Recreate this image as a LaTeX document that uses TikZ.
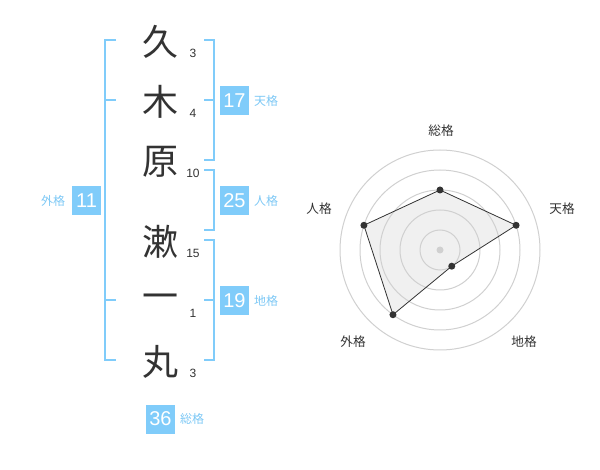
\documentclass[tikz,border=0pt]{standalone}
\usepackage{fontspec}
\setmainfont{Liberation Sans}
\newfontfamily\cjk{Noto Sans CJK JP}
\definecolor{skyblue}{RGB}{128,204,250}
\definecolor{labelblue}{RGB}{125,200,245}
\definecolor{inkgray}{RGB}{51,51,51}
\definecolor{ringgray}{RGB}{208,208,208}
\definecolor{fillgray}{RGB}{240,240,240}

\begin{document}
\begin{tikzpicture}[x=0.75pt,y=-0.75pt,
  kanji/.style={font=\cjk\fontsize{27}{27}\selectfont,text=inkgray,inner sep=0},
  strokenum/.style={font=\fontsize{9}{9}\selectfont,text=inkgray,inner sep=0},
  score/.style={fill=skyblue,text=white,minimum size=21.75pt,inner sep=0,font=\fontsize{15}{15}\selectfont},
  kaku/.style={font=\cjk\fontsize{9}{9}\selectfont,text=labelblue,inner sep=0},
  axislabel/.style={font=\cjk\fontsize{9.5}{9.5}\selectfont,text=inkgray,inner sep=0},
  bracket/.style={draw=skyblue,line width=1.5pt}]
\useasboundingbox (0,0) rectangle (600,470);
\newcommand{\tlen}{10}
\newcommand{\kanji}[4]{\node [kanji] (k#1) at (160,#2+1.5) {#3};
  \node [strokenum] (s#1) at (193,#2+13) {#4};}
\newcommand{\rtick}[1]{\draw [bracket] (214,#1)--(214-\tlen,#1);}

% name, one character per slot
\kanji{1}{40}{久}{3}
\kanji{2}{100}{木}{4}
\kanji{3}{160}{原}{10}
\kanji{4}{240}{漱}{15}
\kanji{5}{300}{一}{1}
\kanji{6}{360}{丸}{3}

% brackets
\draw [bracket] (116,40)--(105,40)--(105,360)--(116,360);
\draw [bracket] (105,100)--(116,100);
\draw [bracket] (105,300)--(116,300);
\draw [bracket] (204,40)--(214,40)--(214,160)--(204,160);\rtick{100}
\draw [bracket] (204,170)--(214,170)--(214,230)--(204,230);
\draw [bracket] (204,240)--(214,240)--(214,360)--(204,360);\rtick{300}

\node [score] (ten) at (234.5,100.5) {17};
\node [kaku] (tenl) at (266,100.5) {天格};
\node [score] (jin) at (234.5,200.5) {25};
\node [kaku] (jinl) at (266,200.5) {人格};
\node [score] (chi) at (234.5,300.5) {19};
\node [kaku] (chil) at (266,300.5) {地格};
\node [score] (gai) at (86.5,200.5) {11};
\node [kaku] (gail) at (53,200.5) {外格};
\node [score] (sou) at (160.5,419) {36};
\node [kaku] (soul) at (192,419) {総格};

% radar
\begin{scope}[shift={(440,250)}]
\coordinate (c) at (0,0);
\coordinate (v1) at (-90:60);
\coordinate (v2) at (-18:80);
\coordinate (v3) at (54:20);
\coordinate (v4) at (126:80);
\coordinate (v5) at (198:80);
\fill [fillgray] (v1)--(v2)--(v3)--(v4)--(v5)--cycle;
\foreach \r in {1,...,5} \draw [ringgray,line width=0.75pt] (c) circle (20*\r);
\draw [inkgray,line width=0.6pt] (v1)--(v2)--(v3)--(v4)--(v5)--cycle;
\fill [ringgray] (c) circle (3.5);
\foreach \v in {v1,v2,v3,v4,v5} \fill [inkgray] (\v) circle (3.5);
\end{scope}
\node [axislabel] (asou) at (441,131) {総格};
\node [axislabel] (aten) at (562,209) {天格};
\node [axislabel] (achi) at (524,342) {地格};
\node [axislabel] (agai) at (353,342) {外格};
\node [axislabel] (ajin) at (319,209) {人格};
\end{tikzpicture}
\end{document}
